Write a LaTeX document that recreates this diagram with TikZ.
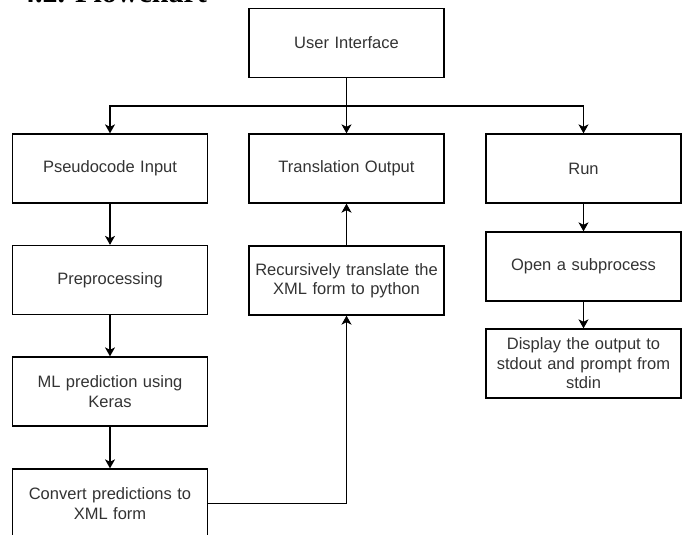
\documentclass[tikz,border=0pt]{standalone}
\usepackage{fontspec}
\setmainfont{Liberation Sans}
\newfontfamily\headfont{Liberation Serif}
\usetikzlibrary{arrows.meta}
\definecolor{txtgray}{RGB}{51,51,51}
\begin{document}
\begin{tikzpicture}[x=1pt,y=-1pt,
  box/.style={draw=black, line width=1.3pt, fill=white, minimum width=195pt, minimum height=69pt,
    inner sep=2pt, align=center, text width=185pt, text=txtgray,
    font=\fontsize{16.5}{19.5}\selectfont},
  conn/.style={line width=1.3pt, draw=black},
  arr/.style={conn, -{Stealth[length=9pt,width=10pt,inset=2.5pt]}}]
\useasboundingbox (0,0) rectangle (686,535);
\fill[white] (0,0) rectangle (686,535);
\clip (0,0) rectangle (686,535);
\node[anchor=base west, inner sep=0pt, font=\headfont\bfseries\fontsize{30}{30}\selectfont] (head) at (20,3) {4.2. Flowchart};
\node[box] (ui) at (346.5,43) {User Interface};
\node[box] (pi) at (110,168.5) {Pseudocode Input};
\node[box] (pre) at (110,280) {Preprocessing};
\node[box] (ml) at (110,391.5) {ML prediction using\\Keras};
\node[box] (conv) at (110,503.5) {Convert predictions to\\XML form};
\node[box] (to) at (346.5,168.5) {Translation Output};
\node[box] (rec) at (346.5,280.5) {Recursively translate the\\XML form to python};
\node[box] (run) at (583.5,168.5) {Run};
\node[box] (sub) at (583.5,266.5) {Open a subprocess};
\node[box] (disp) at (583.5,363.5) {Display the output to\\stdout and prompt from\\stdin};
\coordinate (j) at (346.5,106);
\draw[conn] (ui.south) -- (j);
\draw[arr] (j) -| (pi.north);
\draw[arr] (j) -| (run.north);
\draw[arr] (j) -- (to.north);
\draw[arr] (pi) -- (pre);
\draw[arr] (pre) -- (ml);
\draw[arr] (ml) -- (conv);
\draw[arr] (conv.east) -| (rec.south);
\draw[arr] (rec) -- (to);
\draw[arr] (run) -- (sub);
\draw[arr] (sub) -- (disp);
\end{tikzpicture}
\end{document}
